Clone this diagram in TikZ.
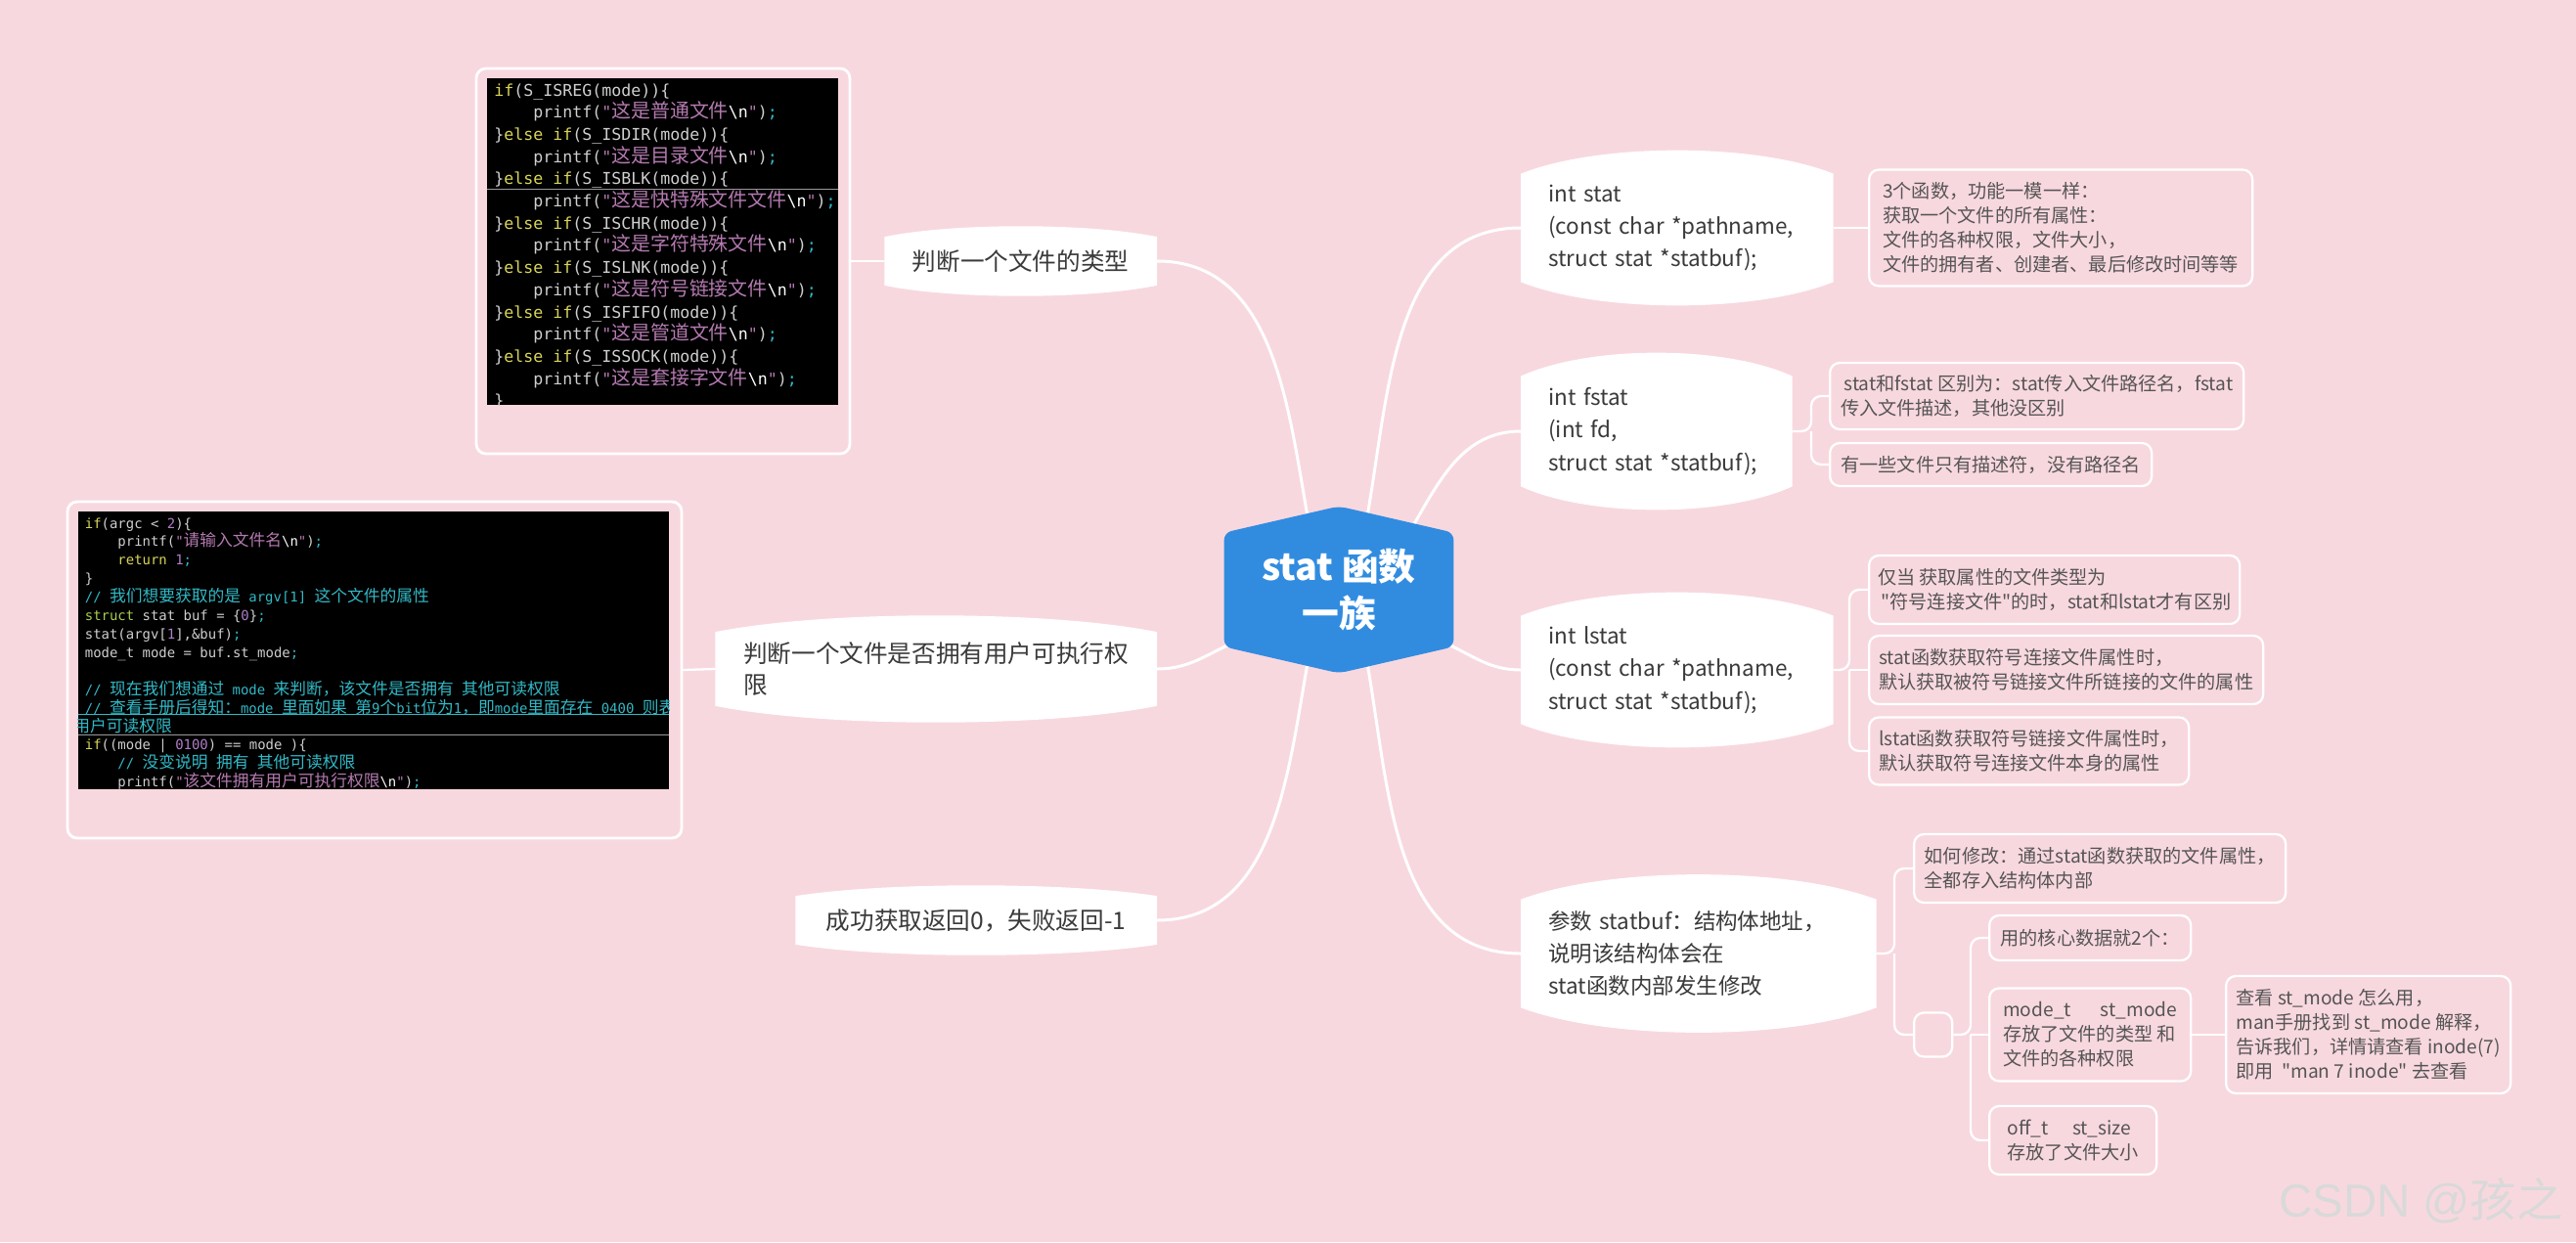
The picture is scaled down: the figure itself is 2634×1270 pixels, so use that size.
\documentclass[tikz,border=0pt]{standalone}
\usepackage{fontspec}
\setmainfont{Noto Sans CJK SC}[Ligatures=TeXOff]
\newfontfamily\codefont{DejaVu Sans Mono}
\newfontfamily\codezh[Scale=1.2]{Noto Sans CJK SC}
\newfontfamily\markfont{Liberation Sans}
\usepackage{xcolor}
\usetikzlibrary{calc}
\definecolor{MapPink}{HTML}{F8D8DF}
\definecolor{MapBlue}{HTML}{318CE0}
\definecolor{MapInk}{HTML}{3A3A3A}
\definecolor{MapNote}{HTML}{555555}
\definecolor{CodeGray}{HTML}{CFCFCF}
\definecolor{CodeYellow}{HTML}{D9D55A}
\definecolor{CodeMauve}{HTML}{B47AB0}
\definecolor{CodeCyan}{HTML}{32B9C6}
\definecolor{CodeNum}{HTML}{B07FC8}
\definecolor{CodeGreen}{HTML}{A9CF4F}
\definecolor{MarkGray}{HTML}{D9D9D9}
\pgfdeclarelayer{paper}
\pgfdeclarelayer{links}
\pgfdeclarelayer{blobs}
\pgfsetlayers{paper,links,blobs,main}
\newcommand{\kw}[1]{\textcolor{CodeYellow}{#1}}
\newcommand{\kwg}[1]{\textcolor{CodeGreen}{#1}}
\newcommand{\cstr}[1]{\textcolor{CodeMauve}{#1}}
\newcommand{\cmt}[1]{\textcolor{CodeCyan}{#1}}
\newcommand{\cnum}[1]{\textcolor{CodeNum}{#1}}
\newcommand{\semi}{\textcolor{CodeCyan}{;}}
\newcommand{\bsn}{\textcolor{white}{\textbackslash n}}
\newcommand{\zh}[1]{{\codezh #1}}
% white lens behind a node: flat sides, bulging top and bottom
\newcommand{\lensfill}[2]{%
  \fill[white] (#1.south west) -- (#1.north west)
    .. controls ($(#1.north west)!.25!(#1.north east)+(0,#2)$) and ($(#1.north west)!.75!(#1.north east)+(0,#2)$) .. (#1.north east)
    -- (#1.south east)
    .. controls ($(#1.south west)!.75!(#1.south east)-(0,#2)$) and ($(#1.south west)!.25!(#1.south east)-(0,#2)$) .. (#1.south west) -- cycle;}
\tikzset{
  hubnode/.style={font=\fontsize{21.5}{27.3}\selectfont\bfseries,text=white,align=center,minimum width=46.8mm,minimum height=34mm,inner sep=0pt},
  stemnode/.style={font=\fontsize{12.8}{19}\selectfont,text=MapInk,align=left,anchor=west,inner ysep=0pt,inner xsep=5.6mm},
  twignode/.style={font=\fontsize{14}{18.2}\selectfont,text=MapInk,align=left,anchor=east,inner sep=0pt},
  notebox/.style={draw=white,line width=1.3pt,rounded corners=2mm,font=\fontsize{10.9}{14.2}\selectfont,text=MapNote,align=left,anchor=west,inner sep=0pt},
  shotframe/.style={draw=white,line width=1.6pt,rounded corners=2mm,inner sep=0pt},
  mapline/.style={draw=white,line width=1.7pt},
  branch/.style={draw=white,line width=1.3pt,rounded corners=2mm},
  codeline/.style={anchor=base west,inner sep=0pt,text=CodeGray}
}
\begin{document}
\begin{tikzpicture}[x=0.2mm,y=-0.2mm]
\begin{pgfonlayer}{paper}
\fill[MapPink] (0,0) rectangle (2634,1270);
\end{pgfonlayer}
\useasboundingbox (0,0) rectangle (2634,1270);

% centre
\node[hubnode] (root) at (1369,603) {stat 函数\\一族};
\begin{pgfonlayer}{blobs}
\fill[MapBlue,rounded corners=1.5mm] (root.north) -- ([yshift=-5.4mm]root.north east) -- ([yshift=5.4mm]root.south east)
  -- (root.south) -- ([yshift=5.4mm]root.south west) -- ([yshift=-5.4mm]root.north west) -- cycle;
\end{pgfonlayer}

% right side
\node[stemnode,text width=52.6mm,minimum height=22mm] (rstat) at (1555,233) {int stat\\(const char *pathname,\\struct stat *statbuf);};
\node[stemnode,text width=44.2mm,minimum height=22.4mm] (rfstat) at (1555,441) {int fstat\\(int fd,\\struct stat *statbuf);};
\node[stemnode,text width=52.6mm,minimum height=22mm] (rlstat) at (1555,685) {int lstat\\(const char *pathname,\\struct stat *statbuf);};
\node[stemnode,text width=61.4mm,minimum height=22mm] (rbuf) at (1555,975) {参数 statbuf：结构体地址，\\说明该结构体会在\\stat函数内部发生修改};

% left side
\node[twignode,align=center,minimum width=55.6mm,minimum height=9.8mm] (ltype) at (1183,267) {判断一个文件的类型};
\node[twignode,minimum width=90.2mm,minimum height=15mm] (lexec) at (1183,684) {判断一个文件是否拥有用户可执行权\\限};
\node[twignode,align=center,minimum width=73.8mm,minimum height=9.8mm] (lret) at (1183,941) {成功获取返回0，失败返回-1};

\begin{pgfonlayer}{blobs}
\lensfill{rstat}{6.4mm}
\lensfill{rfstat}{6.4mm}
\lensfill{rlstat}{6.4mm}
\lensfill{rbuf}{6.8mm}
\lensfill{ltype}{2.9mm}
\lensfill{lexec}{4.5mm}
\lensfill{lret}{2.9mm}
\end{pgfonlayer}

% notes
\node[notebox,minimum width=78.4mm,minimum height=23.8mm] (nall) at (1910,233) {3个函数，功能一模一样：\\获取一个文件的所有属性：\\文件的各种权限，文件大小，\\文件的拥有者、创建者、最后修改时间等等};
\node[notebox,minimum width=84.6mm,minimum height=13.6mm] (ndiff) at (1870,405) {\hspace*{2pt}stat和fstat 区别为：stat传入文件路径名，fstat\\传入文件描述，其他没区别};
\node[notebox,minimum width=65.8mm,minimum height=8.8mm] (nfd) at (1870,475) {有一些文件只有描述符，没有路径名};
\node[notebox,minimum width=75.8mm,minimum height=14mm] (nonly) at (1910,603) {仅当 获取属性的文件类型为\\\hspace*{2pt}"符号连接文件"的时，stat和lstat才有区别};
\node[notebox,minimum width=80.6mm,minimum height=14mm] (nfollow) at (1910,685) {stat函数获取符号连接文件属性时，\\默认获取被符号链接文件所链接的文件的属性};
\node[notebox,minimum width=65.4mm,minimum height=13.8mm] (nself) at (1910,768) {lstat函数获取符号链接文件属性时，\\默认获取符号连接文件本身的属性};
\node[notebox,minimum width=76mm,minimum height=14mm] (nhow) at (1956,888) {如何修改：通过stat函数获取的文件属性，\\全都存入结构体内部};
\node[notebox,minimum width=7.8mm,minimum height=9mm] (nbox) at (1956,1058) {};
\node[notebox,minimum width=41.2mm,minimum height=9.2mm] (ncore) at (2033,959) {用的核心数据就2个：};
\node[notebox,minimum width=41.2mm,minimum height=19mm] (nmode) at (2033,1058) {mode\_t\hspace{17pt}st\_mode\\存放了文件的类型 和\\文件的各种权限};
\node[notebox,minimum width=34.2mm,minimum height=14mm] (nsize) at (2033,1166) {off\_t\hspace{14pt}st\_size\\存放了文件大小};
\node[notebox,minimum width=58.2mm,minimum height=24mm] (nman) at (2275,1058) {查看 st\_mode 怎么用，\\man手册找到 st\_mode 解释，\\告诉我们，详情请查看 inode(7)\\即用\ \ "man 7 inode" 去查看};

% screenshots
\node[shotframe,minimum width=76.4mm,minimum height=78.8mm] (codeA) at (678,267) {};
\node[fill=black,inner sep=0pt,minimum width=71.8mm,minimum height=66.8mm] (shotA) at (677.5,247) {};
\node[shotframe,minimum width=125.6mm,minimum height=68.8mm] (codeB) at (383,685) {};
\node[fill=black,inner sep=0pt,minimum width=120.8mm,minimum height=56.8mm] (shotB) at (382,665) {};

\begin{scope}
\clip (shotA.north west) rectangle (shotA.south east);
\foreach \codeline [count=\i from 0] in {
  {\kw{if}(S\_ISREG(mode))\{},
  {~~~~printf(\cstr{"\zh{这是普通文件}}\bsn\cstr{"})\semi},
  {\}\kw{else if}(S\_ISDIR(mode))\{},
  {~~~~printf(\cstr{"\zh{这是目录文件}}\bsn\cstr{"})\semi},
  {\}\kw{else if}(S\_ISBLK(mode))\{},
  {~~~~printf(\cstr{"\zh{这是快特殊文件文件}}\bsn\cstr{"})\semi},
  {\}\kw{else if}(S\_ISCHR(mode))\{},
  {~~~~printf(\cstr{"\zh{这是字符特殊文件}}\bsn\cstr{"})\semi},
  {\}\kw{else if}(S\_ISLNK(mode))\{},
  {~~~~printf(\cstr{"\zh{这是符号链接文件}}\bsn\cstr{"})\semi},
  {\}\kw{else if}(S\_ISFIFO(mode))\{},
  {~~~~printf(\cstr{"\zh{这是管道文件}}\bsn\cstr{"})\semi},
  {\}\kw{else if}(S\_ISSOCK(mode))\{},
  {~~~~printf(\cstr{"\zh{这是套接字文件}}\bsn\cstr{"})\semi},
  {\}}}
  \node[codeline,font=\codefont\fontsize{9.45}{12}\selectfont] at (505,98+22.7*\i) {\codeline};
\draw[gray!80,line width=0.5pt] (498,193) -- (857,193);
\end{scope}

\begin{scope}
\clip (shotB.north west) rectangle (shotB.south east);
\foreach \codeline [count=\i from 0] in {
  {\kw{if}(argc < \cnum{2})\{},
  {~~~~printf(\cstr{"\zh{请输入文件名}}\bsn\cstr{"})\semi},
  {~~~~\kw{return} \cnum{1}\semi},
  {\}},
  {\cmt{// \zh{我们想要获取的是} argv[1] \zh{这个文件的属性}}},
  {\kwg{struct} stat buf = \{\cnum{0}\}\semi},
  {stat(argv[\cnum{1}],\&buf)\semi},
  {mode\_t mode = buf.st\_mode\semi},
  {},
  {\cmt{// \zh{现在我们想通过} mode \zh{来判断，该文件是否拥有} \zh{其他可读权限}}},
  {\cmt{// \zh{查看手册后得知：}mode \zh{里面如果} \zh{第}9\zh{个}bit\zh{位为}1\zh{，即}mode\zh{里面存在} 0400 \zh{则表示}}},
  {},
  {\kw{if}((mode | \cnum{0100}) == mode )\{},
  {~~~~\cmt{// \zh{没变说明} \zh{拥有} \zh{其他可读权限}}},
  {~~~~printf(\cstr{"\zh{该文件拥有用户可执行权限}}\bsn\cstr{"})\semi}}
  \node[codeline,font=\codefont\fontsize{7.94}{10}\selectfont] at (86.5,540+18.9*\i) {\codeline};
\node[codeline,font=\codefont\fontsize{7.94}{10}\selectfont] at (75,748) {\cmt{\zh{用户可读权限}}};
\draw[CodeCyan,line width=0.5pt] (80,730) -- (684,730);
\draw[gray!80,line width=0.5pt] (80,751) -- (684,751);
\end{scope}

% connectors
\begin{pgfonlayer}{links}
\draw[mapline] ([shift={(-32,-75)}]root.center) to[out=100,in=0] (ltype.east);
\draw[mapline] ([shift={(-110,55)}]root.center) to[out=205,in=0] (lexec.east);
\draw[mapline] ([shift={(-32,75)}]root.center) to[out=260,in=0] (lret.east);
\draw[mapline] ([shift={(29,-75)}]root.center) to[out=80,in=180] (rstat.west);
\draw[mapline] ([shift={(74,-62)}]root.center) to[out=60,in=180] (rfstat.west);
\draw[mapline] ([shift={(110,55)}]root.center) to[out=-25,in=180] (rlstat.west);
\draw[mapline] ([shift={(29,75)}]root.center) to[out=-80,in=180] (rbuf.west);
\end{pgfonlayer}
\draw[branch] (ltype.west) -- (codeA.east);
\draw[branch] (lexec.west) -- (codeB.east);
\draw[branch] (rstat.east) -- (nall.west);
\coordinate (jfd) at (1852,441);
\draw[branch] (rfstat.east) -- (jfd) |- (ndiff.west);
\draw[branch] (jfd) |- (nfd.west);
\coordinate (jl) at (1891,685);
\draw[branch] (rlstat.east) -- (jl) |- (nonly.west);
\draw[branch] (jl) -- (nfollow.west);
\draw[branch] (jl) |- (nself.west);
\coordinate (jb) at (1937,975);
\draw[branch] (rbuf.east) -- (jb) |- (nhow.west);
\draw[branch] (jb) |- (nbox.west);
\coordinate (jk) at (2015,1058);
\draw[branch] (nbox.east) -- (jk) |- (ncore.west);
\draw[branch] (jk) -- (nmode.west);
\draw[branch] (jk) |- (nsize.west);
\draw[branch] (nmode.east) -- (nman.west);

% watermark
\node[anchor=east,font=\fontsize{27}{27}\selectfont,text=MarkGray] (mark) at (2627,1228) {{\markfont CSDN @}孩之};
\end{tikzpicture}
\end{document}
